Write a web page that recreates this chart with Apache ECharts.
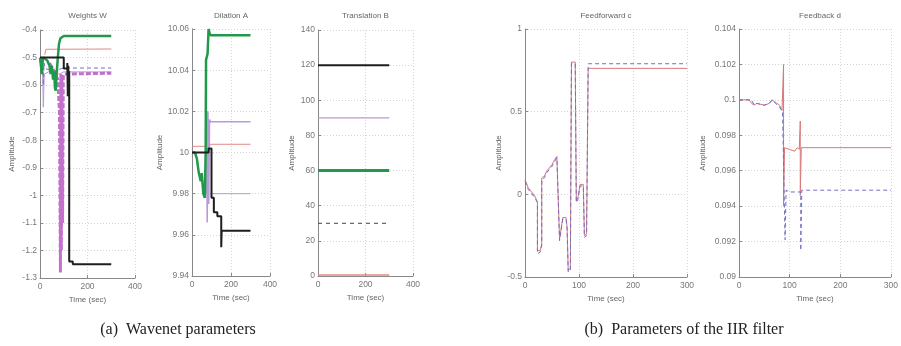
<!DOCTYPE html>
<html><head><meta charset="utf-8">
<script src="https://cdn.jsdelivr.net/npm/echarts@6/dist/echarts.min.js"></script>
<style>html,body{margin:0;padding:0;background:#fff}#c{width:901px;height:346px}</style>
</head><body><div id="c"></div>
<script>
// ---- Panel titles / captions ----
const panelTitles = ['Weights W','Dilation A','Translation B','Feedforward c','Feedback d'];
const captionA = '(a)  Wavenet parameters';
const captionB = '(b)  Parameters of the IIR filter';

// ---- Weights W ----
const wGreen = [[0,-0.5],[8,-0.5],[8,-0.56],[12,-0.5],[30,-0.51],[40,-0.53],[45,-0.56],[50,-0.53],[55,-0.58],[60,-0.55],[63,-0.61],[66,-0.62],[70,-0.56],[75,-0.5],[80,-0.45],[86,-0.43],[92,-0.424],[100,-0.422],[300,-0.422]];
const wSalmon = [[20,-0.49],[25,-0.47],[300,-0.469]];
const wBlack = [[0,-0.5],[100,-0.5],[100,-0.54],[115,-0.54],[115,-0.52],[117,-0.64],[119,-0.53],[121,-0.6],[123,-0.55],[123,-1.24],[138,-1.24],[138,-1.25],[145,-1.245],[150,-1.25],[300,-1.25]];
const wBlue = [[12,-0.5],[14,-0.6],[17,-0.52],[22,-0.54],[60,-0.55],[90,-0.54],[100,-0.538],[300,-0.538]];
const wMagenta = [[40,-0.52],[60,-0.55],[75,-0.58],[82,-0.7],[86,-1.28],[88,-0.56],[90,-1.2],[92,-0.58],[95,-1.1],[98,-0.57],[102,-0.56],[300,-0.557]];
const wLavender = [[10,-0.52],[14,-0.68],[18,-0.56],[40,-0.55],[80,-0.56],[100,-0.552],[300,-0.552]];

// ---- Dilation A ----
const aGreen = [[0,10],[15,10],[25,9.997],[35,9.99],[45,9.986],[50,9.99],[58,9.98],[66,9.978],[68,9.99],[70,10.0],[72,10.045],[80,10.048],[85,10.06],[90,10.058],[95,10.057],[300,10.057]];
const aLavender = [[70,9.98],[74,10.02],[78,9.966],[82,10.02],[86,9.975],[90,10.016],[95,10.015],[300,10.015]];
const aSalmon = [[0,10.003],[90,10.003],[95,10.004],[300,10.004]];
const aBlack = [[0,10],[85,10],[85,10.002],[100,10.002],[100,9.978],[112,9.978],[112,9.971],[130,9.971],[130,9.969],[150,9.969],[150,9.954],[152,9.962],[300,9.962]];
const aGray = [[95,9.98],[300,9.98]];

// ---- Translation B ----
const bBlack = [[0,120],[300,120]];
const bLavender = [[0,90],[300,90]];
const bGreen = [[0,60],[300,60]];
const bDashed = [[0,30],[300,30]];
const bSalmon = [[0,0.6],[300,0.6]];

// ---- Feedforward c ----
const cRed = [[0,0.09],[6,0.04],[18,-0.01],[23,-0.045],[23,-0.34],[28,-0.34],[31,-0.3],[31,0.1],[36,0.11],[40,0.14],[45,0.16],[50,0.18],[55,0.21],[59,0.23],[62,0.23],[64,-0.27],[67,-0.27],[70,-0.14],[76,-0.14],[78,-0.2],[80,-0.46],[84,-0.45],[86,0.8],[93,0.8],[95,-0.04],[98,-0.02],[100,0.02],[102,0.06],[108,0.06],[110,-0.25],[114,-0.24],[117,0.762],[300,0.762]];
const cBlue = [[0,0.08],[6,0.03],[18,-0.02],[23,-0.05],[23,-0.36],[28,-0.35],[31,-0.31],[31,0.09],[36,0.1],[40,0.13],[45,0.15],[50,0.17],[55,0.2],[59,0.22],[62,0.22],[64,-0.28],[67,-0.28],[70,-0.15],[76,-0.15],[78,-0.21],[80,-0.47],[84,-0.46],[86,0.79],[93,0.79],[95,-0.05],[98,-0.03],[100,0.01],[102,0.05],[108,0.05],[110,-0.26],[114,-0.25],[117,0.79],[300,0.79]];

// ---- Feedback d ----
const dRed = [[0,0.1],[20,0.1],[25,0.0998],[30,0.0997],[35,0.0998],[50,0.0997],[60,0.0998],[65,0.1],[70,0.0999],[80,0.0997],[85,0.0994],[88,0.0994],[88,0.102],[88,0.094],[90,0.0973],[100,0.0972],[110,0.0971],[115,0.0973],[119,0.0972],[121,0.0988],[121,0.0946],[123,0.0973],[300,0.0973]];
const dBlue = [[0,0.1],[25,0.1],[30,0.0997],[35,0.0998],[50,0.0997],[60,0.0998],[66,0.1],[72,0.0998],[80,0.0996],[86,0.0993],[88,0.0993],[91,0.0921],[93,0.0949],[100,0.0948],[118,0.0948],[122,0.0948],[122,0.0915],[124,0.0949],[300,0.0949]];

// ---- Axis ranges / ticks ----
const xMax = [400,400,400,300,300];
const xInt = [200,200,200,100,100];
const yMin = [-1.3, 9.94, 0, -0.5, 0.09];
const yMax = [-0.4, 10.06, 140, 1, 0.104];
const yInt = [0.1, 0.02, 20, 0.5, 0.002];

const C = {green:'#20994a', salmon:'#e08a86', black:'#1e1e1e', blue:'#7070c8', magenta:'#b858c4', lavender:'#b79ad8', gray:'#a8a8b8', red:'#d8787a'};

const gridsPx = [
  {left:40, top:30, width:95, height:248},
  {left:192, top:29, width:78, height:247},
  {left:318, top:30, width:95, height:246},
  {left:525, top:29, width:162, height:248},
  {left:739, top:29, width:162, height:248}
];
const nameGaps = [24, 28, 22, 22, 32];

const chart = echarts.init(document.getElementById('c'), null, {renderer:'canvas'});
const font = 'Liberation Sans, Arial, sans-serif';
const tickColor = '#777';

const grid = gridsPx.map(g => ({...g, containLabel:false}));
const xAxis = gridsPx.map((g,i) => ({
  gridIndex:i, type:'value', min:0, max:xMax[i], interval:xInt[i],
  name:'Time (sec)', nameLocation:'middle', nameGap:15,
  nameTextStyle:{fontSize:8, color:'#666', fontFamily:font},
  axisLine:{show:true, onZero:false, lineStyle:{color:'#888', width:1}},
  axisTick:{inside:true, length:3, lineStyle:{color:'#888'}},
  axisLabel:{fontSize:8.5, color:tickColor, margin:4, fontFamily:font},
  splitLine:{show:true, lineStyle:{color:'#d4d4d4', type:[1,2]}}
}));
const yAxis = gridsPx.map((g,i) => ({
  gridIndex:i, type:'value', min:yMin[i], max:yMax[i], interval:yInt[i],
  name:'Amplitude', nameLocation:'middle', nameGap:nameGaps[i], nameRotate:90,
  nameTextStyle:{fontSize:8, color:'#666', fontFamily:font},
  axisLine:{show:true, onZero:false, lineStyle:{color:'#888', width:1}},
  axisTick:{inside:true, length:3, lineStyle:{color:'#888'}},
  axisLabel:{fontSize:8.5, color:tickColor, margin:3, fontFamily:font,
    formatter: v => String(+v.toFixed(4))},
  splitLine:{show:true, lineStyle:{color:'#d4d4d4', type:[1,2]}}
}));

function ln(idx, data, color, width, type, opacity){
  return {type:'line', xAxisIndex:idx, yAxisIndex:idx, data, showSymbol:false, symbol:'none',
    lineStyle:{color, width, type:type||'solid', opacity: opacity==null?1:opacity}, silent:true, animation:false, z:2};
}

const series = [
  ln(0, wSalmon, C.salmon, 1),
  ln(0, wLavender, C.lavender, 1),
  ln(0, wBlue, C.blue, 1, [4,3]),
  ln(0, wMagenta, C.magenta, 3, [5,2], 0.85),
  ln(0, wGreen, C.green, 2.5),
  ln(0, wBlack, C.black, 2),
  ln(1, aSalmon, C.salmon, 1),
  ln(1, aGray, C.gray, 1),
  ln(1, aLavender, C.lavender, 1.5),
  ln(1, aGreen, C.green, 2.5),
  ln(1, aBlack, C.black, 2),
  ln(2, bSalmon, C.salmon, 1.5),
  ln(2, bDashed, '#5a3a3a', 1, [4,4]),
  ln(2, bGreen, C.green, 3),
  ln(2, bLavender, C.lavender, 1.2),
  ln(2, bBlack, C.black, 2),
  ln(3, cRed, C.red, 1),
  ln(3, cBlue, C.blue, 1, [4,3]),
  ln(4, dRed, C.red, 1),
  ln(4, dBlue, C.blue, 1, [4,3])
];

const titleX = gridsPx.map(g => g.left + g.width/2);
const graphic = panelTitles.map((t,i) => ({
  type:'text', x: titleX[i], y: 12,
  style:{text:t, fill:'#666', font:'8px '+font, textAlign:'center'}
}));
graphic.push({type:'text', x:178, y:322, style:{text:captionA, fill:'#222', font:'16px "Liberation Serif", serif', textAlign:'center'}});
graphic.push({type:'text', x:684, y:322, style:{text:captionB, fill:'#222', font:'16px "Liberation Serif", serif', textAlign:'center'}});

chart.setOption({
  animation:false, backgroundColor:'#fff',
  grid, xAxis, yAxis, series, graphic
});
</script></body></html>
